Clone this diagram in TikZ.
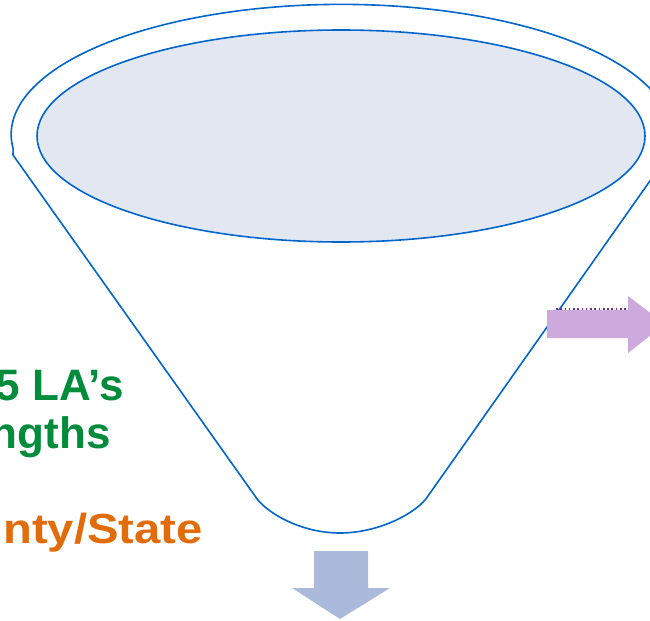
\documentclass[tikz,border=0pt]{standalone}
\usepackage{fontspec}
\setmainfont{Liberation Sans}
\definecolor{funblue}{RGB}{0,102,204}
\definecolor{funfill}{RGB}{227,231,242}
\definecolor{lavender}{RGB}{204,170,221}
\definecolor{dotpurple}{RGB}{112,48,160}
\definecolor{downblue}{RGB}{171,185,219}
\definecolor{txtgreen}{RGB}{0,140,58}
\definecolor{txtorange}{RGB}{227,108,10}
\begin{document}
\begin{tikzpicture}[x=0.75pt,y=0.75pt,
  funline/.style={draw=funblue,line width=1.2pt,line join=round},
  bigtxt/.style={font=\fontsize{33}{40}\bfseries\selectfont,anchor=base east,inner sep=0pt}]
\useasboundingbox (0,0) rectangle (650,-621);
% funnel outline
\draw[funline] (13,-155) -- (255,-496)
  .. controls (265,-512) and (300,-533) .. (340,-533)
  .. controls (380,-533) and (418,-512) .. (428,-496)
  -- (652,-178)
  arc[start angle=-19.6,end angle=186.3,x radius=330,y radius=130] -- cycle;
% inner ellipse (top surface)
\draw[funline,fill=funfill] (341,-136) ellipse[x radius=304,y radius=106];
% right arrow
\fill[lavender] (547,-310) -- (628,-310) -- (628,-296) -- (665,-324) -- (628,-353) -- (628,-338) -- (547,-338) -- cycle;
\draw[dotpurple,dotted,line width=1.2pt] (556,-309) -- (627,-309);
% down arrow
\fill[downblue] (314,-551) -- (368,-551) -- (368,-588) -- (390,-588) -- (340,-619) -- (292,-588) -- (314,-588) -- cycle;
% texts
\node[bigtxt,text=txtgreen] (la) at (124,-400) {5 LA’s};
\node[bigtxt,text=txtgreen] (str) at (111,-448) {ngths};
\node[bigtxt,text=txtorange,font=\fontsize{31.5}{38}\bfseries\selectfont] (cs) at (203,-543) {\scalebox{1.125}[1]{nty/State}};
\end{tikzpicture}
\end{document}
